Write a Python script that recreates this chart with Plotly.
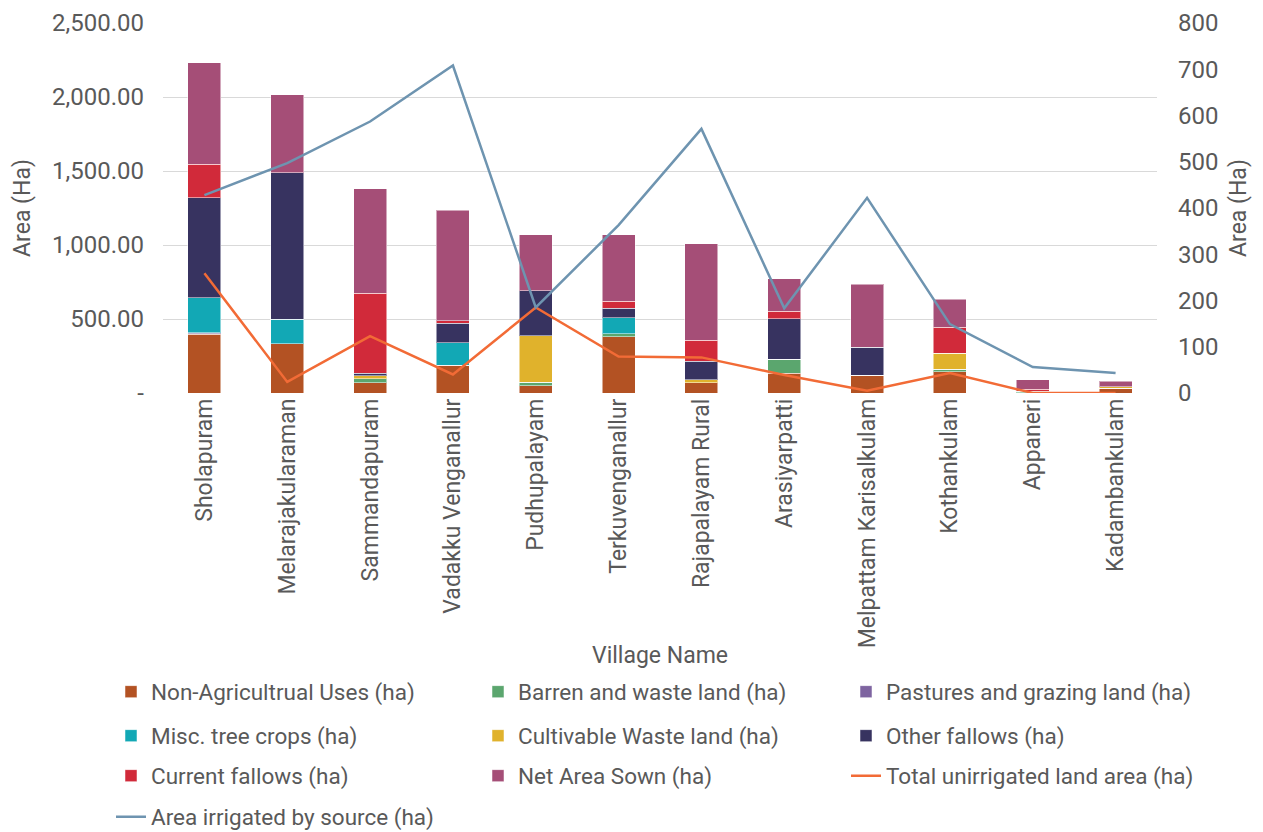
import plotly.graph_objects as go

# Village land use data (ha)
villages = ["Sholapuram", "Melarajakularaman", "Sammandapuram", "Vadakku Venganallur",
            "Pudhupalayam", "Terkuvenganallur", "Rajapalayam Rural", "Arasiyarpatti",
            "Melpattam Karisalkulam", "Kothankulam", "Appaneri", "Kadambankulam"]

non_agri = [396, 333, 70, 187, 49, 380, 70, 133, 120, 144, 3, 32]
barren = [5, 0, 27, 0, 25, 19, 0, 95, 0, 18, 4, 0]
pastures = [5, 0, 0, 0, 0, 0, 0, 0, 0, 0, 0, 0]
misc_trees = [238, 165, 0, 153, 0, 108, 0, 0, 0, 0, 5, 0]
cultivable_waste = [0, 0, 18, 0, 313, 0, 20, 0, 0, 106, 0, 11]
other_fallows = [676, 991, 18, 131, 304, 67, 124, 274, 189, 0, 0, 0]
current_fallows = [225, 0, 541, 18, 0, 46, 144, 50, 0, 176, 15, 0]
net_sown = [685, 525, 706, 747, 377, 448, 649, 220, 425, 191, 61, 38]

unirrigated = [259, 24, 123, 40, 185, 79, 77, 39, 5, 43, 0, 0]
irrigated = [428, 497, 587, 708, 185, 363, 571, 183, 422, 149, 56, 43]

font_col = "#595959"
W, H = 1255, 824  # page body has an 8px margin

bar_series = [
    ("Non-Agricultrual Uses (ha)", non_agri, "#B35223"),
    ("Barren and waste land (ha)", barren, "#5BA66E"),
    ("Pastures and grazing land (ha)", pastures, "#7E64A0"),
    ("Misc. tree crops (ha)", misc_trees, "#12A8B5"),
    ("Cultivable Waste land (ha)", cultivable_waste, "#E0B22C"),
    ("Other fallows (ha)", other_fallows, "#373360"),
    ("Current fallows (ha)", current_fallows, "#D12A3A"),
    ("Net Area Sown (ha)", net_sown, "#A54E77"),
]

# one legend per entry so the 3-column grid can be placed exactly
col_x = [103, 470, 838]
row_y = [684, 728, 768, 809]
leg_names = ["legend"] + [f"legend{i}" for i in range(2, 11)]

fig = go.Figure()
for i, (name, vals, col) in enumerate(bar_series):
    fig.add_trace(go.Bar(x=villages, y=vals, name=name, marker_color=col,
                         marker_line=dict(color="rgba(255,255,255,0.5)", width=1),
                         legend=leg_names[i], showlegend=True))

fig.add_trace(go.Scatter(x=villages, y=unirrigated, name="Total unirrigated land area (ha)",
                         mode="lines", line=dict(color="#F26B36", width=2.5),
                         yaxis="y2", legend=leg_names[8]))
fig.add_trace(go.Scatter(x=villages, y=irrigated, name="Area irrigated by source (ha)",
                         mode="lines", line=dict(color="#6E94B0", width=2.5),
                         yaxis="y2", legend=leg_names[9]))

left_ticks = [0, 500, 1000, 1500, 2000, 2500]
left_text = ["-"] + [f"{v:,.2f}" for v in left_ticks[1:]]

legends = {}
for i, ln in enumerate(leg_names):
    legends[ln] = dict(orientation="h", xref="container", yref="container",
                       xanchor="left", yanchor="middle",
                       x=col_x[i % 3] / W, y=1 - row_y[i // 3] / H,
                       font=dict(size=22.5, color=font_col), bgcolor="rgba(0,0,0,0)")

fig.update_layout(
    showlegend=True,
    barmode="stack",
    bargap=0.6,
    width=W, height=H,
    margin=dict(l=155, r=106, t=15, b=439),
    plot_bgcolor="white", paper_bgcolor="white",
    font=dict(family="Roboto", size=22, color=font_col),
    xaxis=dict(tickangle=-90, tickfont=dict(size=23, color=font_col),
               showgrid=False, ticks="", automargin=False),
    yaxis=dict(range=[0, 2500], tickvals=left_ticks, ticktext=left_text,
               showgrid=True, gridcolor="#D9D9D9", gridwidth=1, zeroline=False,
               tickfont=dict(size=24, color=font_col), ticklabelstandoff=18,
               title=dict(text="Area (Ha)", font=dict(size=23, color=font_col), standoff=14),
               automargin=False),
    yaxis2=dict(range=[0, 800], dtick=100, overlaying="y", side="right",
                showgrid=False, zeroline=False, ticklabelstandoff=20,
                tickfont=dict(size=24, color=font_col),
                title=dict(text="Area (Ha)", font=dict(size=23, color=font_col), standoff=12),
                automargin=False),
    annotations=[dict(text="Village Name", x=0.5, y=(385 - 647) / 370,
                      xref="paper", yref="paper", yanchor="middle", showarrow=False,
                      font=dict(size=23, color=font_col))],
    **legends,
)

fig.write_html("out.html")
